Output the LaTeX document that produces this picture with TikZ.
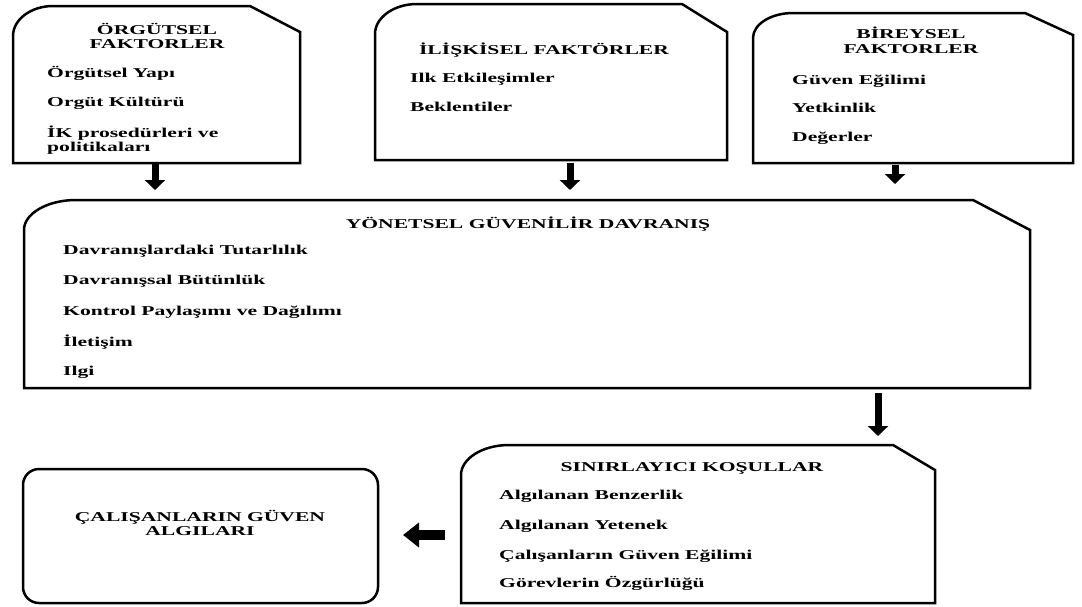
\documentclass[tikz,border=0pt]{standalone}
\usepackage{fontspec}
\setmainfont[FakeStretch=1.6]{Liberation Serif}
\usetikzlibrary{arrows.meta,calc}
\newcommand\folderoutline[5]{%
  \draw[boxline] (#1.south west) -- ([yshift=-#3pt]#1.north west)
    .. controls ([yshift=-#3*0.45pt]#1.north west) and ([xshift=#2*0.45pt]#1.north west) ..
    ([xshift=#2pt]#1.north west) -- ([xshift=-#4pt]#1.north east)
    -- ([yshift=-#5pt]#1.north east) -- (#1.south east) -- cycle;}
\begin{document}
\begin{tikzpicture}[x=1pt,y=-1pt,
  boxline/.style={line width=2.5pt,black},
  region/.style={draw=none,inner sep=0pt,outer sep=0pt,anchor=north west},
  ttl/.style={font=\fontsize{13.5}{14.5}\selectfont\bfseries,align=center,inner sep=0pt},
  item/.style={font=\fontsize{13.5}{16}\selectfont\bfseries,anchor=base west,inner sep=0pt},
  varrow/.style={line width=7pt,-{Triangle[width=20pt,length=10pt]}},
  harrow/.style={line width=10pt,-{Triangle[width=24pt,length=16pt]}}]
\useasboundingbox (0,0) rectangle (1082,606);
% regions
\node[region,minimum width=287pt,minimum height=157pt] (org) at (13,6) {};
\node[region,minimum width=352pt,minimum height=156pt] (iliski) at (375,4) {};
\node[region,minimum width=320pt,minimum height=150pt] (bireysel) at (753,13) {};
\node[region,minimum width=1006pt,minimum height=188pt] (yon) at (24,200) {};
\node[region,minimum width=474pt,minimum height=158pt] (sinir) at (461,445) {};
\node[region,draw,boxline,rounded corners=16pt,minimum width=355pt,minimum height=134pt] (calisan) at (23,469) {};
% outlines
\folderoutline{org}{40}{30}{50}{26}
\folderoutline{iliski}{42}{30}{45}{28}
\folderoutline{bireysel}{40}{25}{48}{22}
\folderoutline{yon}{52}{30}{57}{30}
\folderoutline{sinir}{48}{30}{42}{25}
% texts box 1
\node[ttl] (t1) at (157,36) {ÖRGÜTSEL\\FAKTORLER};
\node[item] (i11) at (47,77.5) {Örgütsel Yapı};
\node[item] (i12) at (47,106.5) {Orgüt Kültürü};
\node[item] (i13) at (47,137) {İK prosedürleri ve};
\node[item] (i14) at (47,151) {politikaları};
% box 2
\node[ttl,anchor=base] (t2) at (544,54.5) {İLİŞKİSEL FAKTÖRLER};
\node[item] (i21) at (410,82.5) {Ilk Etkileşimler};
\node[item] (i22) at (410,111.5) {Beklentiler};
% box 3
\node[ttl] (t3) at (911,40.5) {BİREYSEL\\FAKTORLER};
\node[item] (i31) at (792,84.5) {Güven Eğilimi};
\node[item] (i32) at (792,112.5) {Yetkinlik};
\node[item] (i33) at (792,141.5) {Değerler};
% big box
\node[ttl,anchor=base] (t4) at (528,228) {YÖNETSEL GÜVENİLİR DAVRANIŞ};
\node[item] (i41) at (63,254) {Davranışlardaki Tutarlılık};
\node[item] (i42) at (63,284) {Davranışsal Bütünlük};
\node[item] (i43) at (63,315) {Kontrol Paylaşımı ve Dağılımı};
\node[item] (i44) at (63,346) {İletişim};
\node[item] (i45) at (63,375) {Ilgi};
% sinirlayici
\node[ttl,anchor=base] (t5) at (692,471.5) {SINIRLAYICI KOŞULLAR};
\node[item] (i51) at (499,499.5) {Algılanan Benzerlik};
\node[item] (i52) at (499,529.5) {Algılanan Yetenek};
\node[item] (i53) at (499,559.5) {Çalışanların Güven Eğilimi};
\node[item] (i54) at (499,587.5) {Görevlerin Özgürlüğü};
% calisan
\node[ttl] (t6) at (200,523) {ÇALIŞANLARIN GÜVEN\\ALGILARI};
% arrows
\coordinate (e1) at (155,190);
\coordinate (e2) at (570,190);
\coordinate (e3) at (895,184);
\coordinate (e4) at (878,436);
\coordinate (e5) at (403,535);
\draw[varrow] (org.south -| e1) -- (e1);
\draw[varrow,shorten <=3pt] (iliski.south -| e2) -- (e2);
\draw[varrow,shorten <=2pt] (bireysel.south -| e3) -- (e3);
\draw[varrow,shorten <=5pt] (yon.south -| e4) -- (e4);
\draw[harrow,shorten <=16pt] (sinir.west |- e5) -- (e5);
\end{tikzpicture}
\end{document}
